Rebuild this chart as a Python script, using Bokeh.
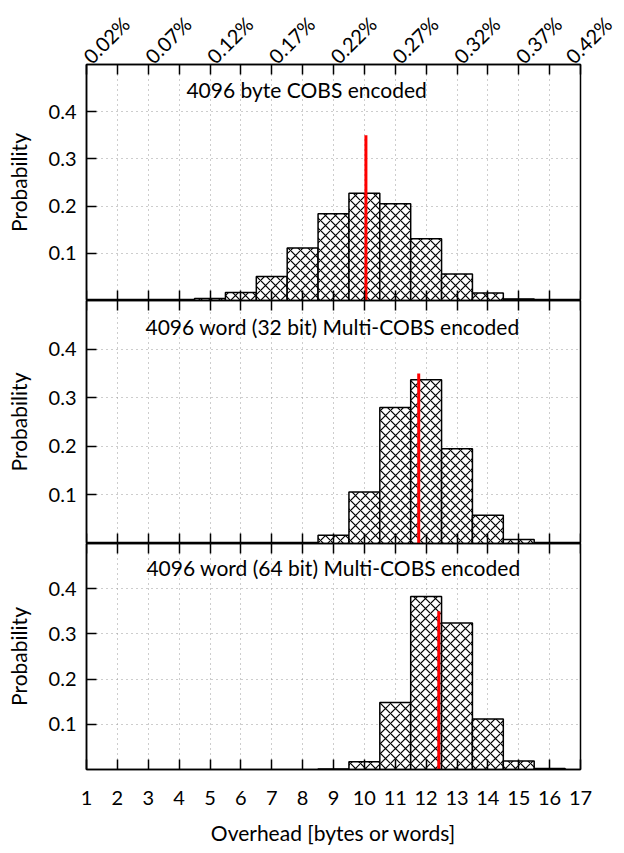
import math
from bokeh.plotting import figure
from bokeh.models import LinearAxis, FixedTicker, Range1d, Label, Grid
from bokeh.layouts import column
from bokeh.embed import file_html
from bokeh.resources import INLINE

# ---------------- data ----------------
overhead_ticks = list(range(1, 18))
pct_ticks = [1, 3, 5, 7, 9, 11, 13, 15, 17]
pct_minor = [2, 4, 6, 8, 10, 12, 14, 16]
pct_labels = ["0.02%", "0.07%", "0.12%", "0.17%", "0.22%", "0.27%", "0.32%", "0.37%", "0.42%"]
prob_ticks = [0.1, 0.2, 0.3, 0.4]

titles = [
    "4096 byte COBS encoded",
    "4096 word (32 bit) Multi-COBS encoded",
    "4096 word (64 bit) Multi-COBS encoded",
]
title_x = [8.13, 8.97, 9.0]

byte_x = [5, 6, 7, 8, 9, 10, 11, 12, 13, 14, 15, 16]
byte_p = [0.004, 0.017, 0.051, 0.111, 0.184, 0.227, 0.205, 0.131, 0.056, 0.016, 0.003, 0.001]

w32_x = [8, 9, 10, 11, 12, 13, 14, 15, 16]
w32_p = [0.001, 0.017, 0.106, 0.280, 0.337, 0.195, 0.058, 0.008, 0.001]

w64_x = [9, 10, 11, 12, 13, 14, 15, 16]
w64_p = [0.001, 0.017, 0.148, 0.383, 0.324, 0.112, 0.019, 0.002]

means = [10.05, 11.76, 12.41]
mean_line_top = 0.35

FONT = "Lato"
TICK_FS = "20px"
LABEL_FS = "21px"

AX = dict(major_tick_in=10, major_tick_out=0,
          minor_tick_line_color=None,
          axis_line_width=1.5, major_tick_line_width=1.5)


def make_panel(idx, xs, ps, frame_h, top_border, bottom_border, first, last):
    p = figure(width=616, height=frame_h + top_border + bottom_border,
               x_range=Range1d(1, 17), y_range=Range1d(0, 0.5),
               x_axis_type=None, y_axis_type=None,
               toolbar_location=None, output_backend="svg",
               min_border_left=86, min_border_right=36,
               min_border_top=top_border, min_border_bottom=bottom_border)
    p.outline_line_color = "black"
    p.outline_line_width = 1.5
    p.background_fill_color = "white"
    p.border_fill_color = "white"

    xt = FixedTicker(ticks=overhead_ticks)
    yt = FixedTicker(ticks=prob_ticks)

    # grids
    p.add_layout(Grid(dimension=0, ticker=xt, grid_line_color="#9a9a9a",
                      grid_line_dash="1 4", grid_line_width=1))
    p.add_layout(Grid(dimension=1, ticker=yt, grid_line_color="#9a9a9a",
                      grid_line_dash="1 4", grid_line_width=1))

    # left axis
    yax = LinearAxis(ticker=yt, axis_label="Probability",
                     major_label_standoff=10, axis_label_standoff=15,
                     major_label_text_font=FONT, major_label_text_font_size=TICK_FS,
                     axis_label_text_font=FONT, axis_label_text_font_size=LABEL_FS,
                     axis_label_text_font_style="normal",
                     major_label_text_color="black", axis_label_text_color="black",
                     **AX)
    p.add_layout(yax, "left")

    # top axis
    if first:
        tt = FixedTicker(ticks=pct_ticks, minor_ticks=pct_minor)
        tax = LinearAxis(ticker=tt,
                         major_label_overrides=dict(zip(pct_ticks, pct_labels)),
                         major_label_orientation=math.pi / 4,
                         major_tick_in=10, major_tick_out=0,
                         minor_tick_in=10, minor_tick_out=0,
                         minor_tick_line_width=1.5, minor_tick_line_color="black",
                         axis_line_width=1.5, major_tick_line_width=1.5,
                         major_label_standoff=5,
                         major_label_text_font=FONT, major_label_text_font_size=TICK_FS,
                         major_label_text_color="black")
        p.add_layout(tax, "above")
    else:
        tax = LinearAxis(ticker=xt, fixed_location=0.5,
                         major_label_text_color=None, major_label_standoff=0, **AX)
        p.add_layout(tax, "above")

    # bottom axis
    if last:
        bax = LinearAxis(ticker=xt, axis_label="Overhead [bytes or words]",
                         major_label_standoff=21, axis_label_standoff=12,
                         major_label_text_font=FONT, major_label_text_font_size=TICK_FS,
                         axis_label_text_font=FONT, axis_label_text_font_size=LABEL_FS,
                         axis_label_text_font_style="normal",
                         major_label_text_color="black", axis_label_text_color="black",
                         **AX)
        p.add_layout(bax, "below")
    else:
        bax = LinearAxis(ticker=xt, fixed_location=0,
                         major_label_text_color=None, major_label_standoff=0, **AX)
        p.add_layout(bax, "below")

    # histogram bars
    p.vbar(x=xs, top=ps, width=1.0, bottom=0,
           fill_color="white", line_color="black", line_width=1.5,
           hatch_pattern="diagonal_cross", hatch_color="black",
           hatch_scale=10, hatch_weight=1.2)

    # mean line
    p.segment(x0=[means[idx]], y0=[0], x1=[means[idx]], y1=[mean_line_top],
              line_color="#ff0000", line_width=3)

    p.add_layout(Label(x=title_x[idx], y=0.447, text=titles[idx],
                       text_align="center", text_baseline="middle",
                       text_font=FONT, text_font_size=LABEL_FS, text_color="black"))
    return p


p1 = make_panel(0, byte_x, byte_p, 239, 61, 0, True, False)
p2 = make_panel(1, w32_x, w32_p, 243, 0, 0, False, False)
p3 = make_panel(2, w64_x, w64_p, 226, 0, 84, False, True)

layout = column(p1, p2, p3, spacing=0)

open("out.html", "w").write(file_html(layout, INLINE))
